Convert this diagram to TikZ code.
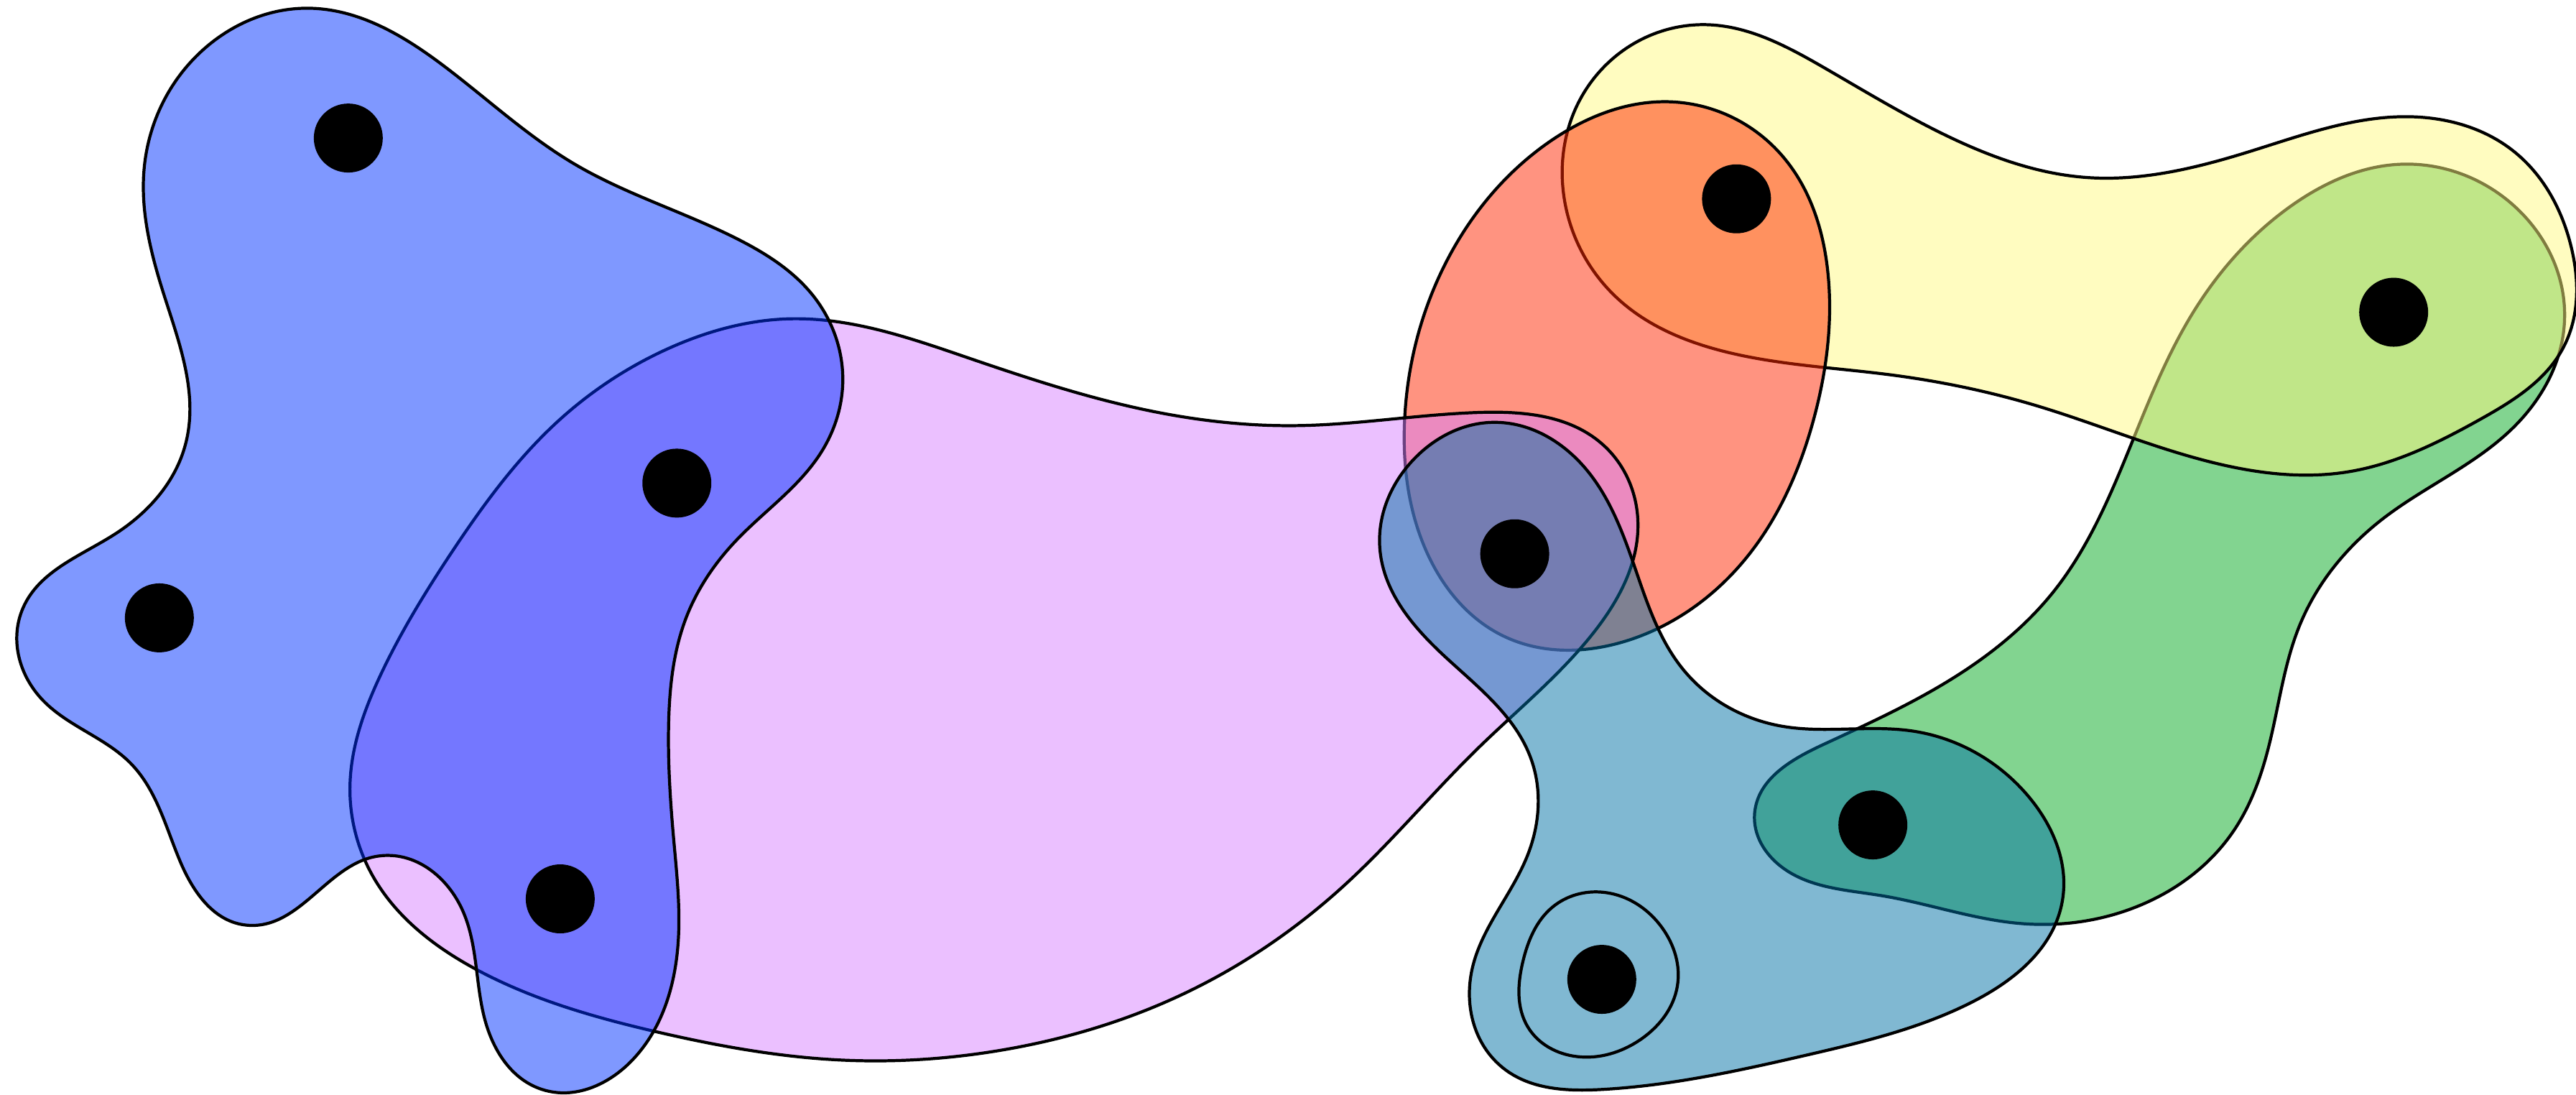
\documentclass[tikz,border=0pt]{standalone}
\usepackage{tikz}
\usetikzlibrary{hobby}

\definecolor{hgreen}{RGB}{5,169,33}
\definecolor{hyellow}{RGB}{255,249,129}
\definecolor{hred}{RGB}{255,39,1}
\definecolor{hpink}{RGB}{215,129,255}
\definecolor{hblue}{RGB}{0,49,255}
\definecolor{hteal}{RGB}{1,113,165}

\tikzset{hedge/.style={draw=black, line width=1.2pt, fill opacity=0.5}}

\begin{document}
\begin{tikzpicture}[x=0.02287cm, y=-0.02287cm]
	\useasboundingbox (0,0) rectangle (1568,666);
	
	\coordinate (v1) at (212,84);
	\coordinate (v2) at (97,376);
	\coordinate (v3) at (412,294);
	\coordinate (v4) at (341,547);
	\coordinate (v5) at (1057,121);
	\coordinate (v6) at (1457,190);
	\coordinate (v7) at (922,337);
	\coordinate (v8) at (1140,502);
	\coordinate (v9) at (975,596);
	
	% edges, back to front
	\draw[hedge, fill=hgreen] plot[closed hobby] coordinates {
		(1299,266) (1335,190) (1395,125) (1460,100) (1530,125) (1561,195)
		(1530,260) (1450,316) (1400,380) (1382,450) (1360,505) (1300,552)
		(1230,562) (1145,545) (1085,528) (1068,495) (1110,453) (1185,415)
		(1250,360)};
	\draw[hedge, fill=hyellow] plot[closed hobby] coordinates {
		(1038,15) (1110,41) (1190,85) (1270,108) (1370,92) (1465,71) (1530,92)
		(1565,150) (1560,212) (1510,255) (1430,287) (1345,281) (1240,247)
		(1150,228) (1050,214) (985,182) (952,120) (965,55)};
	\draw[hedge, fill=hred] plot[closed hobby] coordinates {
		(1018,62) (1085,95) (1113,170) (1104,255) (1060,343) (990,390)
		(915,387) (868,335) (855,255) (880,160) (945,85)};
	\draw[hedge, fill=hpink] plot[closed hobby] coordinates {
		(481,194) (590,218) (700,250) (790,259) (900,251) (975,270) (997,318)
		(970,385) (900,455) (818,539) (720,605) (610,639) (510,645) (400,628)
		(290,590) (228,535) (213,480) (232,410) (275,336) (340,256) (407,212)};
	\draw[hedge, fill=hblue] plot[closed hobby] coordinates {
		(188,5) (270,40) (350,100) (450,146) (495,180) (513,232) (500,275)
		(448,329) (418,375) (407,440) (410,510) (413,570) (385,645) (330,663)
		(295,620) (282,555) (230,521) (150,563) (110,525) (80,465) (25,425)
		(14,370) (70,325) (113,270) (100,180) (88,100) (130,25)};
	\draw[hedge, fill=hteal] plot[closed hobby] coordinates {
		(909,257) (965,285) (995,345) (1025,408) (1085,442) (1165,445)
		(1235,485) (1255,550) (1200,610) (1100,642) (975,663) (915,650)
		(896,590) (930,520) (932,462) (880,400) (840,335) (862,278)};
	\draw[line width=1.2pt] plot[closed hobby] coordinates {
		(976,543) (1012,565) (1021,600) (998,633) (960,643) (930,625)
		(927,585) (945,552)};
	
	\foreach \v in {v1,v2,v3,v4,v5,v6,v7,v8,v9} {
		\fill (\v) circle (0.48cm);
	}
\end{tikzpicture}
\end{document}
